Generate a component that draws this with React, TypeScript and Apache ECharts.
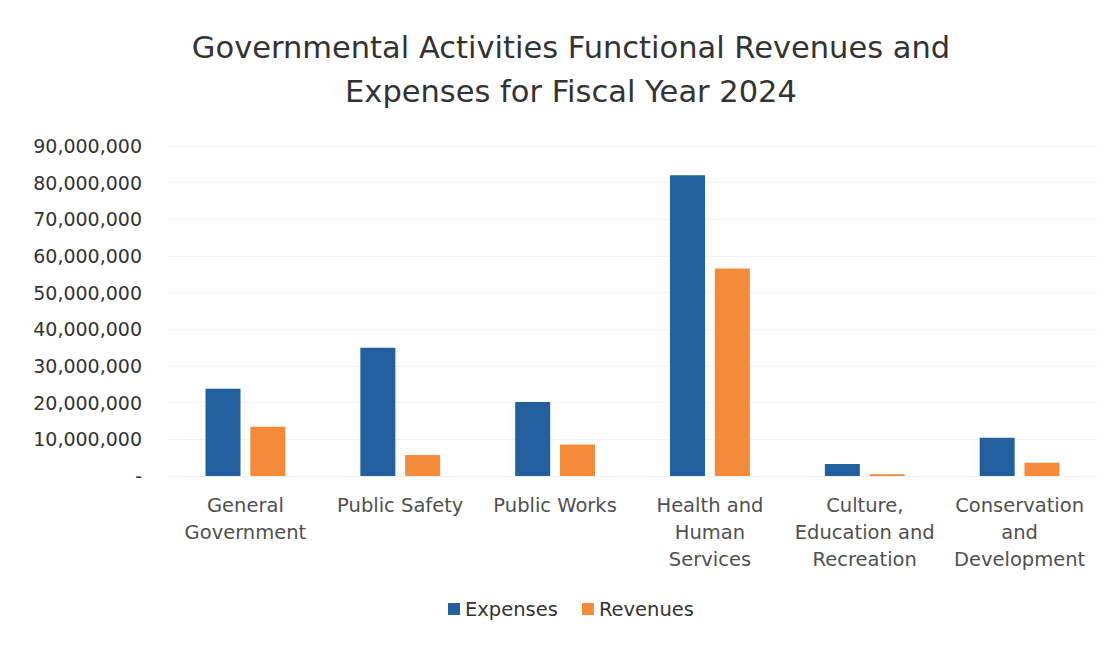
import React, { useEffect, useRef } from "react";
import * as echarts from "echarts";

const categories = [
  "General\nGovernment",
  "Public Safety",
  "Public Works",
  "Health and\nHuman\nServices",
  "Culture,\nEducation and\nRecreation",
  "Conservation\nand\nDevelopment",
];
const expenses = [23800000, 35000000, 20200000, 82000000, 3300000, 10400000];
const revenues = [13400000, 5700000, 8600000, 56600000, 500000, 3600000];
const titleText = "Governmental Activities Functional Revenues and\nExpenses for Fiscal Year 2024";

export default function App() {
  const ref = useRef<HTMLDivElement>(null);
  useEffect(() => {
    if (!ref.current) return;
    const chart = echarts.init(ref.current, null, { renderer: "svg" });
    const font = "DejaVu Sans";
    chart.setOption({
      animation: false,
      backgroundColor: "#ffffff",
      title: {
        text: titleText,
        left: 566,
        top: 20,
        textAlign: "center",
        textStyle: { fontFamily: font, fontSize: 30.5, fontWeight: "normal", color: "#333333", lineHeight: 44 },
      },
      legend: {
        data: ["Expenses", "Revenues"],
        bottom: 22,
        left: 443,
        itemWidth: 12,
        itemHeight: 12,
        itemGap: 24,
        icon: "rect",
        textStyle: { fontFamily: font, fontSize: 19.5, color: "#333333" },
      },
      grid: { left: 168, right: 18, top: 146, bottom: 170, containLabel: false },
      xAxis: {
        type: "category",
        data: categories,
        axisLine: { show: true, lineStyle: { color: "#eeeeee" } },
        axisTick: { show: false },
        axisLabel: {
          interval: 0,
          margin: 16,
          fontFamily: font,
          fontSize: 19.5,
          lineHeight: 27,
          color: "#505050",
        },
      },
      yAxis: {
        type: "value",
        min: 0,
        max: 90000000,
        interval: 10000000,
        axisLine: { show: false },
        axisTick: { show: false },
        splitLine: { show: true, lineStyle: { color: "#f3f3f3" } },
        axisLabel: {
          margin: 26,
          fontFamily: font,
          fontSize: 19,
          color: "#333333",
          formatter: (v: number) => (v === 0 ? "-" : v.toLocaleString("en-US")),
        },
      },
      series: [
        {
          name: "Expenses",
          type: "bar",
          data: expenses,
          barWidth: 35,
          barGap: "28%",
          itemStyle: { color: "#235f9f" },
        },
        {
          name: "Revenues",
          type: "bar",
          data: revenues,
          barWidth: 35,
          itemStyle: { color: "#f58a3a" },
        },
      ],
    });
    return () => chart.dispose();
  }, []);
  return (
    <div
      ref={ref}
      style={{ position: "fixed", left: 0, top: 0, width: 1115, height: 646 }}
    />
  );
}
